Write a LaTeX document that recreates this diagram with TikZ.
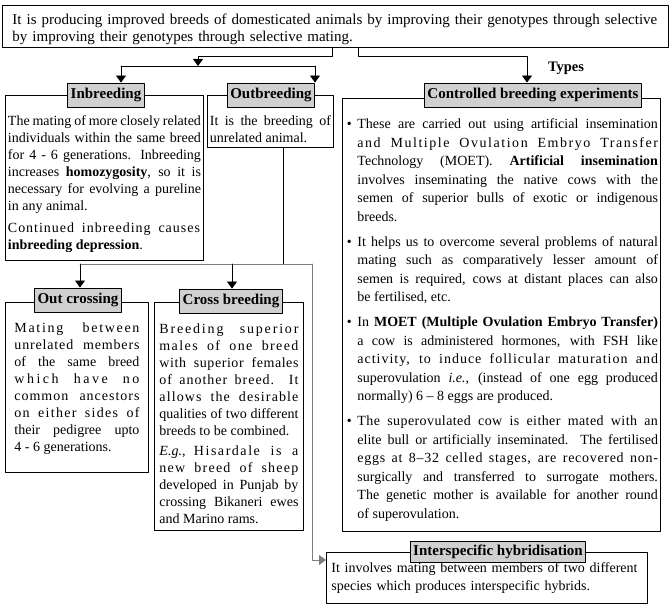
\documentclass[tikz,border=0pt]{standalone}
\usepackage{fontspec}
\setmainfont{Liberation Serif}
\usetikzlibrary{arrows.meta,calc}
\setlength{\parindent}{0pt}

\definecolor{tagfill}{RGB}{208,208,208}
\definecolor{busgray}{RGB}{125,125,125}

\newcommand{\tgap}[1]{\rule{0pt}{#1}}
\newcommand{\bgap}[1]{\rule[-#1]{0pt}{#1}}
\newcommand{\bpt}[1][6pt]{\par\vspace{#1}\noindent\hangindent=12.5pt\hangafter=1\makebox[12.5pt][l]{\hspace{2pt}\textbullet}}
\newcommand{\ls}[2]{{\addfontfeature{LetterSpace=#1}#2}}

\tikzset{
  every path/.style={line width=0.9pt,line cap=round,line join=round},
  panel/.style={draw,anchor=north west,inner ysep=0pt,inner xsep=2.5pt,align=justify,font=\fontsize{14}{17}\selectfont},
  tag/.style={draw,fill=tagfill,inner xsep=3pt,inner ysep=0pt,minimum height=24pt,font=\fontsize{15}{18}\selectfont\bfseries},
  arr/.style={-{Triangle[width=10pt,length=7pt]}},
}

\begin{document}
\begin{tikzpicture}[x=1pt,y=-1pt]
\useasboundingbox (0,0) rectangle (670,604);

\node[panel,text width=646pt,inner xsep=10pt,align=left,font=\fontsize{15}{17}\selectfont] (intro) at (2,5) {\tgap{19pt}It is producing improved breeds of domesticated animals by improving their genotypes through selective\\ by improving their genotypes through selective mating.\bgap{6pt}};

\node[panel,text width=193pt] (inb) at (5,95) {\tgap{30pt}The mating of more closely related\linebreak individuals within the same breed\linebreak for 4 - 6 generations. Inbreeding\linebreak increases \textbf{homozygosity}, so it is\linebreak necessary for evolving a pureline\linebreak in any animal.\par\vspace{5pt}\ls{7}{Continued inbreeding causes}\linebreak \textbf{inbreeding depression}.\bgap{11pt}};
\node[panel,text width=121pt] (outb) at (207,95) {\tgap{30pt}It is the breeding of\linebreak unrelated animal.\bgap{5pt}};
\node[panel,text width=313pt,font=\fontsize{14}{18.6}\selectfont] (ctrl) at (342,98) {\bpt[0pt]\tgap{29pt}These are carried out using artificial insemination\linebreak \ls{11}{and Multiple Ovulation Embryo Transfer}\linebreak Technology (MOET). \textbf{Artificial insemination}\linebreak involves inseminating the native cows with the\linebreak semen of superior bulls of exotic or indigenous\linebreak breeds.
\bpt It helps us to overcome several problems of natural\linebreak mating such as comparatively lesser amount of\linebreak semen is required, cows at distant places can also\linebreak be fertilised, etc.
\bpt In \textbf{MOET (Multiple Ovulation Embryo Transfer)}\linebreak a cow is administered hormones, with FSH like\linebreak \ls{7}{activity, to induce follicular maturation and}\linebreak superovulation \textit{i.e.}, (instead of one egg produced\linebreak normally) 6 -- 8 eggs are produced.
\bpt \ls{3}{The superovulated cow is either mated with an}\linebreak elite bull or artificially inseminated. The fertilised\linebreak \ls{5}{eggs at 8--32 celled stages, are recovered non-}\linebreak surgically and transferred to surrogate mothers.\linebreak The genetic mother is available for another round\linebreak of superovulation.\bgap{13pt}\par};

\node[panel,text width=125pt,inner xsep=9pt] (outc) at (5,302) {\tgap{30pt}\ls{12}{Mating between}\linebreak \ls{6}{unrelated members}\linebreak of the same breed\linebreak \ls{18}{which have no}\linebreak \ls{7}{common ancestors}\linebreak \ls{9}{on either sides of}\linebreak their pedigree upto\linebreak 4 - 6 generations.\bgap{21pt}};
\node[panel,text width=139pt,inner xsep=5pt] (crossb) at (154,302) {\tgap{31pt}\ls{13}{Breeding superior}\linebreak \ls{10}{males of one breed}\linebreak \ls{4}{with superior females}\linebreak \ls{7}{of another breed. It}\linebreak \ls{8}{allows the desirable}\linebreak qualities of two different\linebreak breeds to be combined.\par\vspace{3pt}\textit{E.g.}, \ls{11}{Hisardale is a}\linebreak \ls{9}{new breed of sheep}\linebreak developed in Punjab by\linebreak crossing Bikaneri ewes\linebreak and Marino rams.\bgap{7pt}};
\node[panel,text width=311pt,inner xsep=5pt,align=left,font=\fontsize{14}{18}\selectfont] (inter) at (326,552) {\tgap{20pt}It involves mating between members of two different\\ species which produces interspecific hybrids.\bgap{13pt}};

\node[tag] (inbtag) at (106,95) {Inbreeding};
\node[tag] (outbtag) at (271,95) {Outbreeding};
\node[tag] (ctrltag) at (533,95) {Controlled breeding experiments};
\node[tag] (outctag) at (78,300) {Out crossing};
\node[tag] (crossbtag) at (231,301) {Cross breeding};
\node[tag,minimum height=21pt] (intertag) at (498,552) {Interspecific hybridisation};
\node[font=\fontsize{14.5}{17}\selectfont\bfseries] (types) at (566,68) {Types};

\coordinate (forkA) at (332,56);
\coordinate (forkL) at (198,56);
\coordinate (busL) at (121,66);
\coordinate (busR) at (315,66);
\coordinate (forkB) at (358,56);
\coordinate (forkC) at (527,56);
\coordinate (bus2L) at (80,264);
\coordinate (bus2C) at (232,264);
\coordinate (bus2M) at (283,264);
\coordinate (bus2R) at (312,264);

\draw[arr] (intro.south -| forkA) -- (forkA) -- (forkL) -- (forkL |- busL);
\draw (busL) -- (busR);
\draw[arr] (busL) -- (busL |- inbtag.north);
\draw[arr] (busR) -- (busR |- outbtag.north);
\draw[arr] (intro.south -| forkB) -- (forkB) -- (forkC) -- (forkC |- ctrltag.north);

\draw (outb.south -| bus2M) -- (bus2M);
\draw[busgray] (bus2L) -- (bus2R);
\draw[arr] (bus2L) -- (bus2L |- outctag.north);
\draw[arr] (bus2C) -- (bus2C |- crossbtag.north);
\draw[arr,busgray] (bus2R) |- ($(inter.north west)+(0,8)$);

\end{tikzpicture}
\end{document}
